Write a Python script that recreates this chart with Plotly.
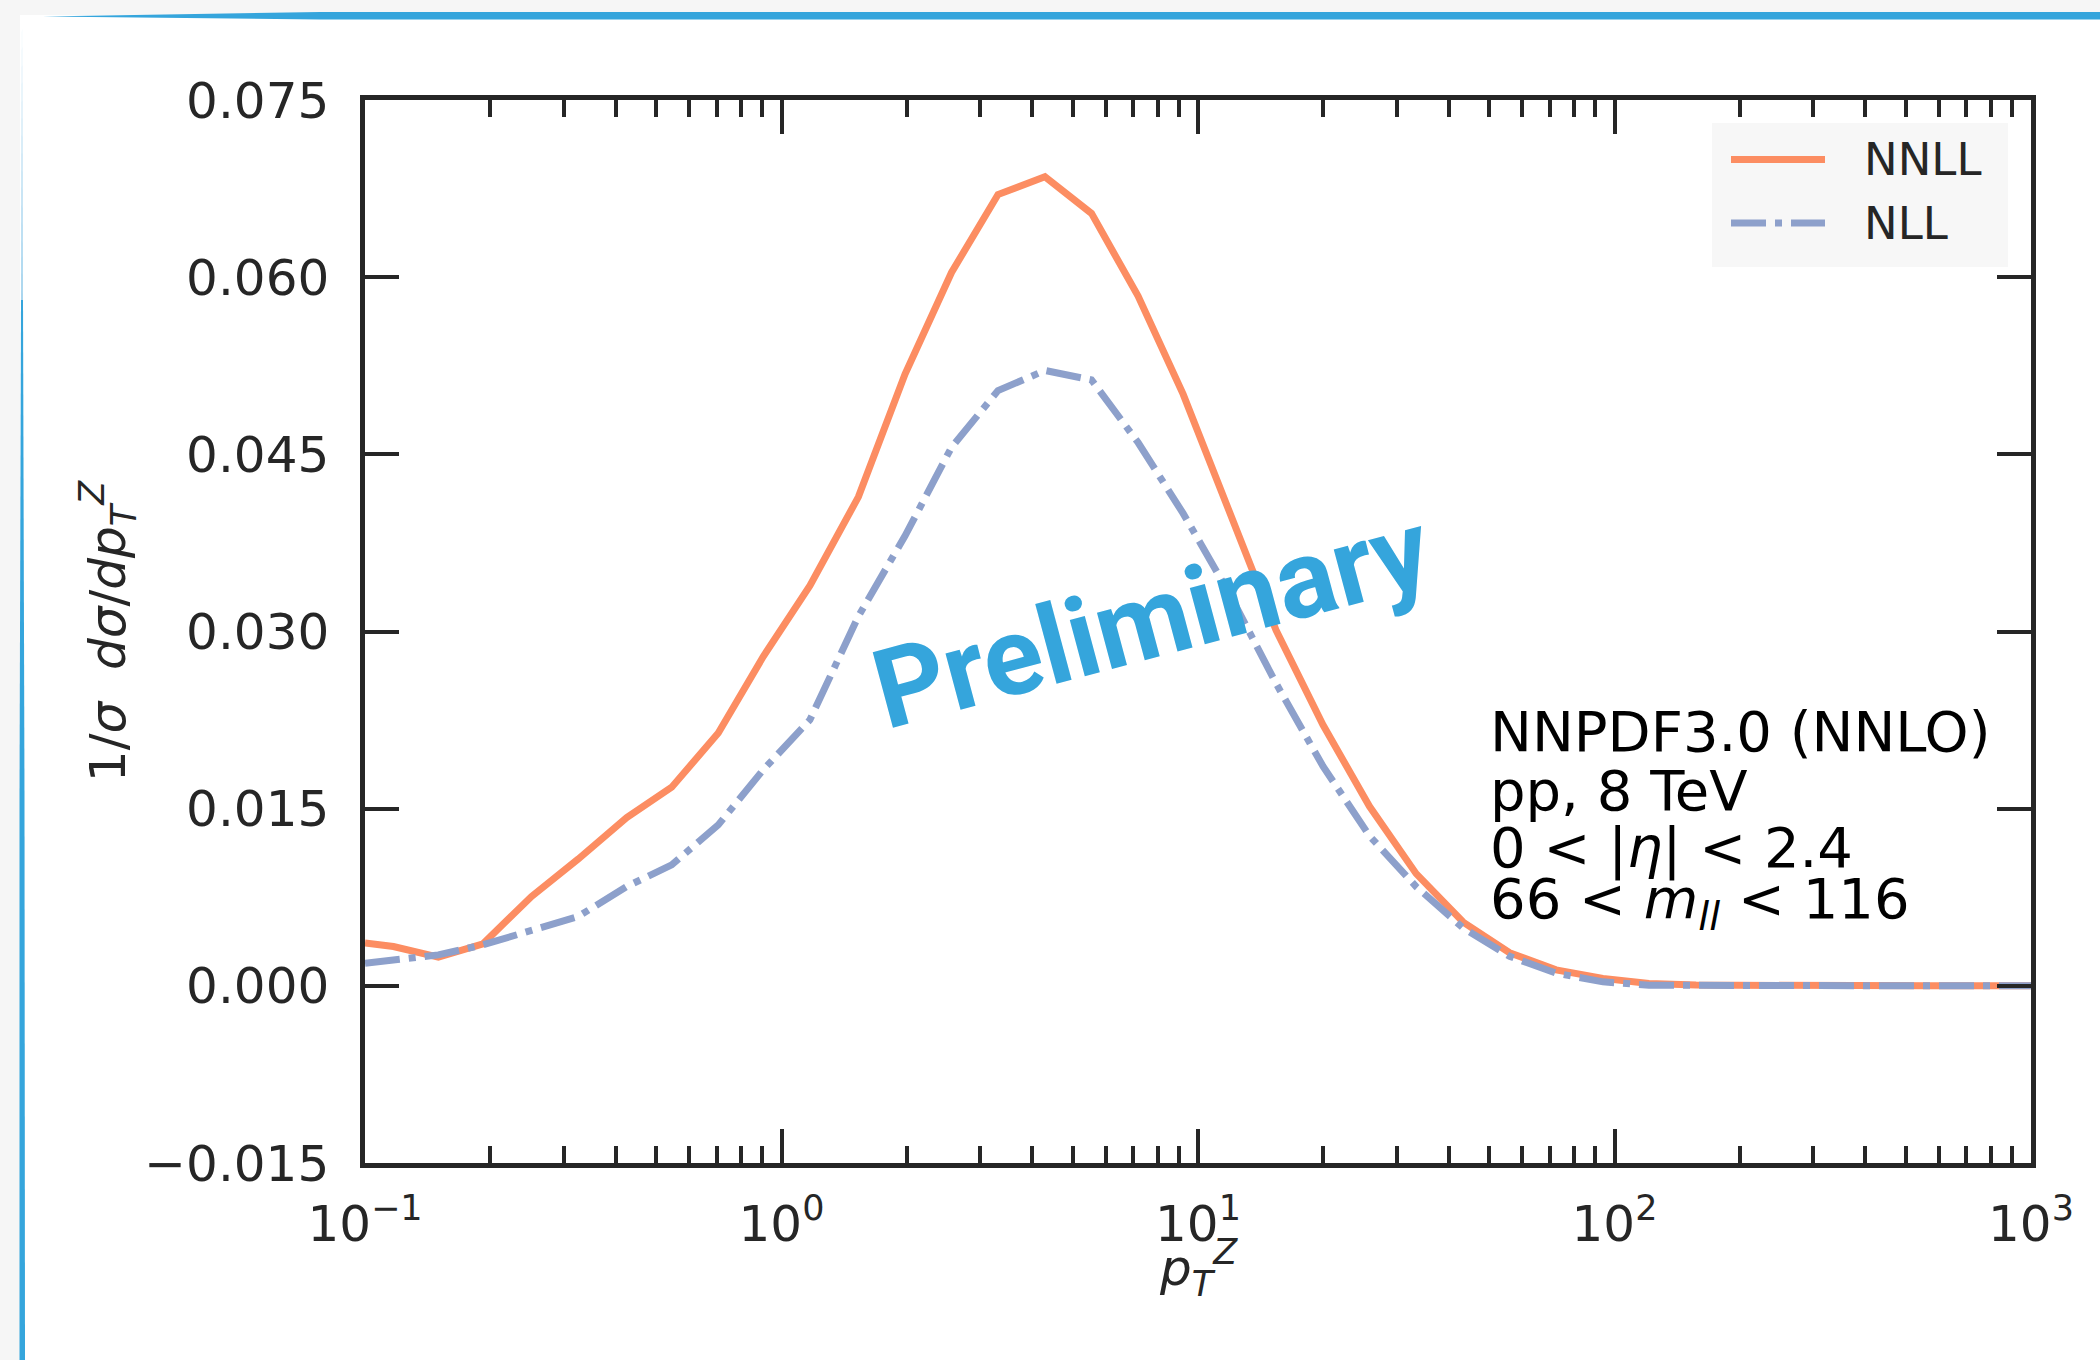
import plotly.graph_objects as go

# Z-boson transverse-momentum spectrum, normalised: NNLL vs NLL resummation
pt = [0.100, 0.117, 0.150, 0.192, 0.251, 0.325, 0.425, 0.545, 0.705, 0.904,
      1.17, 1.53, 1.98, 2.56, 3.31, 4.29, 5.55, 7.18, 9.21, 11.9,
      15.4, 19.95, 25.8, 33.4, 43.3, 56.0, 72.4, 93.8, 121.0, 157.0,
      203.0, 263.0, 340.0, 440.0, 570.0, 738.0, 1000.0]

nnll = [0.00362, 0.00333, 0.00243, 0.00356, 0.00756, 0.01073, 0.01425, 0.01682, 0.02140, 0.02788,
        0.03387, 0.0414, 0.0518, 0.0604, 0.0670, 0.0685, 0.0654, 0.0584, 0.0501, 0.0400,
        0.0301, 0.0221, 0.0152, 0.0095, 0.0054, 0.0028, 0.00135, 0.00063, 0.0002, 0.00006,
        0.00002, 0.0, 0.0, 0.0, 0.0, 0.0, 0.0]

nll = [0.00192, 0.0022, 0.00262, 0.00347, 0.00474, 0.00587, 0.00841, 0.01024, 0.01363, 0.01829,
       0.02252, 0.0313, 0.0381, 0.0456, 0.0504, 0.0521, 0.0513, 0.0460, 0.0400, 0.0332,
       0.0256, 0.0186, 0.0127, 0.0084, 0.0049, 0.0025, 0.00107, 0.00034, 0.00005, 0.00002,
       0.00001, 0.0, 0.0, 0.0, 0.0, 0.0, 0.0]

series_names = ["NNLL", "NLL"]

y_tick_vals = [-0.015, 0.0, 0.015, 0.030, 0.045, 0.060, 0.075]
y_tick_text = ["\u22120.015", "0.000", "0.015", "0.030", "0.045", "0.060", "0.075"]
x_tick_vals = [0.1, 1, 10, 100, 1000]
x_tick_text = ["10<sup>\u22121</sup>", "10<sup>0</sup>", "10<sup>1</sup>",
               "10<sup>2</sup>", "10<sup>3</sup>"]

x_title = "<i>p</i><sub><i>T</i></sub><sup><i>Z</i></sup>"
y_title = "1/<i>\u03c3</i>  <i>d\u03c3</i>/<i>dp</i><sub><i>T</i></sub><sup><i>Z</i></sup>"

info_lines = ["NNPDF3.0 (NNLO)", "pp, 8 TeV",
              "0 &lt; |<i>\u03b7</i>| &lt; 2.4",
              "66 &lt; <i>m</i><sub><i>ll</i></sub> &lt; 116"]

# styling
ORANGE = "#fc8d62"
BLUE = "#8da0cb"
AX = "#262626"
BRAND = "#35a5dc"
FONT = "DejaVu Sans"
DASHDOT = "35px,9px,7px,9px"

W, H = 2100, 1360
L, R, T, B = 365, 2031, 100, 1163


def fx(p):
    return (p - L) / (R - L)


def fy(p):
    return (B - p) / (B - T)


fig = go.Figure()
fig.add_trace(go.Scatter(x=pt, y=nnll, mode="lines", name=series_names[0],
                         line=dict(color=ORANGE, width=7), showlegend=False))
fig.add_trace(go.Scatter(x=pt, y=nll, mode="lines", name=series_names[1],
                         line=dict(color=BLUE, width=7, dash=DASHDOT), showlegend=False))

minor_vals = [m * 10.0 ** e for e in range(-1, 3) for m in range(2, 10)]

fig.update_xaxes(
    type="log", range=[-1, 3],
    tickmode="array", tickvals=x_tick_vals, ticktext=x_tick_text,
    ticks="inside", ticklen=34, tickwidth=4, tickcolor=AX,
    showline=True, linewidth=4.5, linecolor=AX, mirror="ticks",
    showgrid=False, zeroline=False,
    tickfont=dict(family=FONT, size=50, color=AX),
    ticklabelstandoff=13,
    minor=dict(tickmode="array", tickvals=minor_vals, ticks="inside",
               ticklen=17, tickwidth=4, tickcolor=AX, showgrid=False),
)
fig.update_yaxes(
    range=[-0.015, 0.075],
    tickmode="array", tickvals=y_tick_vals, ticktext=y_tick_text,
    ticks="inside", ticklen=34, tickwidth=4, tickcolor=AX,
    showline=True, linewidth=4.5, linecolor=AX, mirror="ticks",
    showgrid=False, zeroline=False,
    tickfont=dict(family=FONT, size=50, color=AX),
    ticklabelstandoff=21,
    title=dict(text=y_title, font=dict(family=FONT, size=50, color=AX), standoff=4),
)

shapes = []
# white card and blue frame strokes
shapes.append(dict(type="rect", xref="paper", yref="paper", layer="below",
                   x0=fx(20), x1=fx(2100), y0=fy(1360), y1=fy(15),
                   fillcolor="white", line=dict(width=0)))


def poly(points):
    return "M " + " L ".join(f"{fx(a):.5f},{fy(b):.5f}" for a, b in points) + " Z"


shapes.append(dict(type="path", xref="paper", yref="paper",
                   path=poly([(43, 16.5), (320, 12), (2100, 12), (2100, 19.5), (320, 19.5)]),
                   fillcolor=BRAND, line=dict(width=0)))
shapes.append(dict(type="path", xref="paper", yref="paper",
                   path=poly([(22, 22), (21, 300), (21, 300), (23, 300)]),
                   fillcolor="#a9d6ef", line=dict(width=0)))
shapes.append(dict(type="path", xref="paper", yref="paper",
                   path=poly([(21, 300), (19.5, 800), (19.5, 1360), (25, 1360), (24.5, 800), (23, 300)]),
                   fillcolor=BRAND, line=dict(width=0)))

# legend box with line samples
shapes.append(dict(type="rect", xref="paper", yref="paper",
                   x0=fx(1712), x1=fx(2008), y0=fy(267), y1=fy(123),
                   fillcolor="#f7f7f7", line=dict(width=0)))
shapes.append(dict(type="line", xref="paper", yref="paper",
                   x0=fx(1731), x1=fx(1825), y0=fy(159.5), y1=fy(159.5),
                   line=dict(color=ORANGE, width=7)))
shapes.append(dict(type="line", xref="paper", yref="paper",
                   x0=fx(1731), x1=fx(1825), y0=fy(223), y1=fy(223),
                   line=dict(color=BLUE, width=7, dash=DASHDOT)))

annotations = []
for name, yc in zip(series_names, [160, 223]):
    annotations.append(dict(text=name, xref="paper", yref="paper",
                            x=fx(1862), y=fy(yc), xanchor="left", yanchor="middle",
                            showarrow=False, font=dict(family=FONT, size=45, color=AX)))

for line, base in zip(info_lines, [751, 810, 868, 922]):
    annotations.append(dict(text=line, xref="paper", yref="paper",
                            x=fx(1488), y=fy(base - 20), xanchor="left", yanchor="middle",
                            showarrow=False, font=dict(family=FONT, size=56, color="black")))

# x-axis title
annotations.append(dict(text=x_title, xref="paper", yref="paper",
                        x=fx(1198), y=fy(1268), xanchor="center", yanchor="middle",
                        showarrow=False, font=dict(family=FONT, size=50, color=AX)))

annotations.append(dict(text="Preliminary", xref="paper", yref="paper",
                        x=fx(1152), y=fy(620), xanchor="center", yanchor="middle",
                        textangle=-15, showarrow=False,
                        font=dict(family="Roboto", size=110, color=BRAND, weight="bold")))

fig.update_layout(
    width=W, height=H,
    margin=dict(l=L, r=W - R, t=T, b=H - B, autoexpand=False),
    paper_bgcolor="#f6f6f6", plot_bgcolor="white",
    shapes=shapes, annotations=annotations,
    showlegend=False,
    font=dict(family=FONT, color=AX),
)

fig.write_html("out.html")
